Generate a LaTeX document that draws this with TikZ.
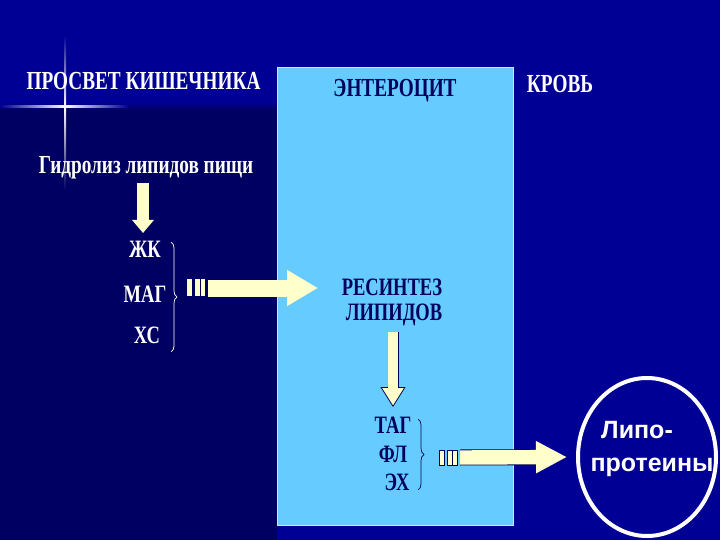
\documentclass[tikz,border=0pt]{standalone}
\usepackage{fontspec}
\setmainfont{Liberation Serif}
\newfontfamily\narrowserif[FakeStretch=0.74]{Liberation Serif}
\newfontfamily\lipofont{Liberation Sans}
\usetikzlibrary{positioning, arrows.meta, shapes.geometric, decorations.pathreplacing}
\definecolor{slidebg}{HTML}{000094}
\definecolor{lumenbg}{HTML}{000062}
\definecolor{cellblue}{HTML}{66CCFF}
\definecolor{inknavy}{HTML}{00005E}
\definecolor{cream}{HTML}{FFFFCC}

\begin{document}
\begin{tikzpicture}[x=1pt, y=-1pt,
    heading/.style={font=\narrowserif\bfseries\fontsize{26}{29}\selectfont, inner sep=0pt, anchor=base},
    item/.style={font=\narrowserif\bfseries\fontsize{25}{28}\selectfont, inner sep=0pt, anchor=base},
    lipo/.style={font=\lipofont\bfseries\fontsize{25}{28}\selectfont, text=white, inner sep=0pt, anchor=base},
    fatarrow/.style={cream, line width=#1},
    plug/.style={fill=cream, draw=#1, line width=0.8pt},
    curly/.style={decorate, decoration={brace, amplitude=6pt}, line width=0.7pt}]
    % background
    \fill[slidebg] (0,0) rectangle (720,540);
    \fill[lumenbg] (0,110) rectangle (277,540);
    \shade[top color=slidebg, bottom color=lumenbg] (0,102) rectangle (277,110);
    \useasboundingbox (0,0) rectangle (720,540);
    % sparkle
    \shade[left color=slidebg, right color=white] (0,106) rectangle (65,108);
    \shade[left color=white, right color=slidebg] (65,106) rectangle (128,108);
    \shade[top color=slidebg, bottom color=white] (64,35) rectangle (66,107);
    \shade[top color=white, bottom color=lumenbg] (64,107) rectangle (66,190);
    % enterocyte
    \draw[fill=cellblue, draw=white!60!cellblue, line width=1pt] (277,68) rectangle (513,525);

    \node[heading, text=white] (lumen) at (143.5,90) {ПРОСВЕТ КИШЕЧНИКА};
    \node[heading, text=inknavy] (cell) at (395,97) {ЭНТЕРОЦИТ};
    \node[heading, text=white] (blood) at (560,93) {КРОВЬ};
    \node[heading, text=white] (hydro) at (146,174) {Гидролиз липидов пищи};

    \node[item, text=white] (zk) at (145,258) {ЖК};
    \node[item, text=white] (mag) at (145,302) {МАГ};
    \node[item, text=white] (xs) at (147,343) {ХС};

    \node[item, text=inknavy] (rs1) at (392,295) {РЕСИНТЕЗ};
    \node[item, text=inknavy] (rs2) at (394,320) {ЛИПИДОВ};

    \node[item, text=inknavy] (tag) at (393,433) {ТАГ};
    \node[item, text=inknavy] (fl) at (393,462) {ФЛ};
    \node[item, text=inknavy] (ex) at (397,490) {ЭХ};

    \node[ellipse, draw=white, line width=4pt, minimum width=138pt, minimum height=158pt] (lp) at (647,457) {};
    \node[lipo] (lp1) at (637,438) {Липо-};
    \node[lipo] (lp2) at (652,471) {протеины};

    % braces
    \draw[curly, white] (171,242) -- (171,352);
    \draw[curly, inknavy] (418,419) -- (418,490);

    % arrows
    \coordinate (d1s) at (143,183);
    \coordinate (d1e) at (143,233);
    \draw[fatarrow=12pt, -{Triangle[width=21pt, length=13pt]}] (d1s) -- (d1e);

    \coordinate (d2s) at (393,332);
    \coordinate (d2e) at (393,407);
    \draw[inknavy, line width=11pt, -{Triangle[width=25pt, length=20pt, fill=cream, line width=0.8pt]}] (d2s) -- (d2e);
    \draw[fatarrow=9.4pt, shorten >=18pt] (d2s) -- (d2e);

    \fill[cream] (187,279) rectangle (192,296);
    \fill[cream] (195,279) rectangle (200,296);
    \fill[cream] (201,279) rectangle (205,296);
    \coordinate (h1s) at (208,288);
    \coordinate (h1e) at (318,288);
    \draw[fatarrow=17pt, -{Triangle[width=34pt, length=31pt]}] (h1s) -- (h1e);

    \draw[plug=inknavy] (439,450) rectangle (444,465);
    \draw[plug=inknavy] (447,450) rectangle (452,465);
    \draw[plug=inknavy] (452,450) rectangle (457,465);
    \coordinate (h2s) at (460,457.5);
    \draw[inknavy, line width=16pt, shorten >=30pt] (h2s) -- (lp.west);
    \draw[fatarrow=14.4pt, shorten >=9pt, -{Triangle[width=30pt, length=31pt]}] (h2s) -- (lp.west);
\end{tikzpicture}
\end{document}
